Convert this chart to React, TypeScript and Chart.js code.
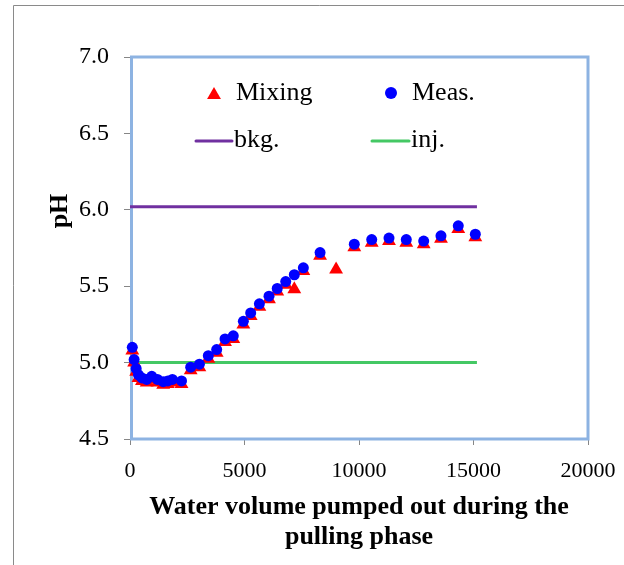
import React, { useEffect, useRef } from "react";
import { Chart, registerables } from "chart.js";

Chart.register(...registerables);

// ---- Data ----
const measX = [100, 180, 270, 370, 520, 730, 950, 1200, 1450, 1650, 1850, 2250, 2650, 3030, 3420, 3785, 4150, 4510, 4950, 5270, 5650, 6070, 6430, 6800, 7175, 7570, 8300, 9795, 10555, 11310, 12065, 12825, 13580, 14335, 15080];
const measY = [5.10, 5.02, 4.96, 4.92, 4.90, 4.89, 4.91, 4.89, 4.875, 4.88, 4.89, 4.88, 4.97, 4.99, 5.045, 5.085, 5.155, 5.175, 5.27, 5.325, 5.385, 5.435, 5.485, 5.53, 5.575, 5.62, 5.72, 5.775, 5.805, 5.815, 5.805, 5.795, 5.83, 5.895, 5.84];

const mixX = [100, 180, 270, 370, 520, 730, 950, 1200, 1450, 1650, 1850, 2250, 2650, 3030, 3420, 3785, 4150, 4510, 4950, 5270, 5650, 6070, 6430, 6800, 7175, 7570, 8300, 9000, 9795, 10555, 11310, 12065, 12825, 13580, 14335, 15080];
const mixY = [5.08, 5.0, 4.94, 4.90, 4.88, 4.87, 4.89, 4.87, 4.855, 4.86, 4.87, 4.86, 4.95, 4.97, 5.025, 5.065, 5.135, 5.155, 5.25, 5.305, 5.365, 5.415, 5.465, 5.51, 5.48, 5.60, 5.70, 5.61, 5.755, 5.785, 5.795, 5.785, 5.775, 5.81, 5.875, 5.82];

const bkgX = [0, 15150];
const bkgY = [6.02, 6.02];
const injX = [0, 15150];
const injY = [5.0, 5.0];

const xTickValues = [0, 5000, 10000, 15000, 20000];
const yTickValues = [4.5, 5.0, 5.5, 6.0, 6.5, 7.0];

const seriesNames = ["Mixing", "Meas.", "bkg.", "inj."];
const xTitleLines = ["Water volume pumped out during the", "pulling phase"];
const yTitle = "pH";

const RED = "#FF0000";
const BLUE = "#0000FF";
const PURPLE = "#7030A0";
const GREEN = "#44C864";
const FRAME = "#8DB3E2";
const SERIF = '"Liberation Serif", "Times New Roman", serif';

const zip = (xs: number[], ys: number[]) => xs.map((x, i) => ({ x, y: ys[i] }));

function drawTri(ctx: CanvasRenderingContext2D, cx: number, cy: number, r: number) {
  ctx.beginPath();
  ctx.moveTo(cx, cy - r);
  ctx.lineTo(cx + r * Math.sin((2 * Math.PI) / 3), cy - r * Math.cos((2 * Math.PI) / 3));
  ctx.lineTo(cx + r * Math.sin((4 * Math.PI) / 3), cy - r * Math.cos((4 * Math.PI) / 3));
  ctx.closePath();
  ctx.fill();
}

const decorPlugin = {
  id: "decor",
  beforeDraw(chart: any) {
    const ctx = chart.ctx as CanvasRenderingContext2D;
    ctx.save();
    ctx.fillStyle = "#fff";
    ctx.fillRect(0, 0, chart.width, chart.height);
    ctx.strokeStyle = "#8a8a8a";
    ctx.lineWidth = 1;
    ctx.beginPath();
    ctx.moveTo(13.5, chart.height + 5);
    ctx.lineTo(13.5, 5.5);
    ctx.lineTo(chart.width + 5, 5.5);
    ctx.stroke();
    ctx.restore();
  },
  beforeDatasetsDraw(chart: any) {
    const ctx = chart.ctx as CanvasRenderingContext2D;
    const a = chart.chartArea;
    ctx.save();
    ctx.strokeStyle = FRAME;
    ctx.lineWidth = 3;
    ctx.strokeRect(a.left + 1.5, a.top, a.right - a.left - 1.5, a.bottom - a.top);
    ctx.restore();
  },
  afterDraw(chart: any) {
    const ctx = chart.ctx as CanvasRenderingContext2D;
    const a = chart.chartArea;
    ctx.save();
    // Legend inside plot
    ctx.font = `26px ${SERIF}`;
    ctx.textBaseline = "middle";
    ctx.textAlign = "left";
    ctx.fillStyle = RED;
    drawTri(ctx, 214, 95, 8);
    ctx.fillStyle = "#000";
    ctx.fillText(seriesNames[0], 236, 93);
    ctx.fillStyle = BLUE;
    ctx.beginPath();
    ctx.arc(391, 93, 6, 0, Math.PI * 2);
    ctx.fill();
    ctx.fillStyle = "#000";
    ctx.fillText(seriesNames[1], 412, 93);
    ctx.lineWidth = 3;
    ctx.lineCap = "round";
    ctx.strokeStyle = PURPLE;
    ctx.beginPath();
    ctx.moveTo(196, 141);
    ctx.lineTo(232, 141);
    ctx.stroke();
    ctx.fillText(seriesNames[2], 234, 140);
    ctx.strokeStyle = GREEN;
    ctx.beginPath();
    ctx.moveTo(372, 141);
    ctx.lineTo(409, 141);
    ctx.stroke();
    ctx.fillText(seriesNames[3], 411, 140);

    // Axis titles
    ctx.font = `bold 26px ${SERIF}`;
    ctx.textAlign = "center";
    const cx = (a.left + a.right) / 2;
    ctx.fillText(xTitleLines[0], cx, 507);
    ctx.fillText(xTitleLines[1], cx, 537);
    ctx.translate(60, 211);
    ctx.rotate(-Math.PI / 2);
    ctx.fillText(yTitle, 0, 0);
    ctx.restore();
  },
};

export default function App() {
  const ref = useRef<HTMLCanvasElement | null>(null);

  useEffect(() => {
    if (!ref.current) return;
    const chart = new Chart(ref.current, {
      type: "scatter",
      data: {
        datasets: [
          {
            label: seriesNames[1],
            data: zip(measX, measY),
            pointStyle: "circle",
            pointRadius: 5.5,
            backgroundColor: BLUE,
            borderWidth: 0,
            showLine: false,
            order: 0,
            clip: false,
          },
          {
            label: seriesNames[0],
            data: zip(mixX, mixY),
            pointStyle: "triangle",
            pointRadius: 8,
            backgroundColor: RED,
            borderWidth: 0,
            showLine: false,
            order: 1,
            clip: false,
          },
          {
            label: seriesNames[2],
            data: zip(bkgX, bkgY),
            showLine: true,
            borderColor: PURPLE,
            borderWidth: 3,
            pointRadius: 0,
            order: 2,
            clip: false,
          },
          {
            label: seriesNames[3],
            data: zip(injX, injY),
            showLine: true,
            borderColor: GREEN,
            borderWidth: 3,
            pointRadius: 0,
            order: 3,
            clip: false,
          },
        ],
      },
      options: {
        responsive: false,
        animation: false,
        devicePixelRatio: 1,
        layout: { padding: { top: 57, right: 36, left: 0, bottom: 0 } },
        plugins: { legend: { display: false }, tooltip: { enabled: false } },
        scales: {
          x: {
            type: "linear",
            min: 0,
            max: 20000,
            afterBuildTicks: (s: any) => {
              s.ticks = xTickValues.map((v) => ({ value: v }));
            },
            afterFit: (s: any) => {
              s.height = 126;
              s.paddingLeft = 0;
              s.paddingRight = 0;
            },
            ticks: {
              font: { family: SERIF, size: 22 },
              color: "#000",
              padding: 13,
              maxRotation: 0,
              callback: (v: any) => String(v),
            },
            grid: { drawOnChartArea: false, drawTicks: true, tickLength: 6, color: "#868686" },
            border: { display: true, color: "#868686", width: 1 },
          },
          y: {
            type: "linear",
            min: 4.5,
            max: 7.0,
            afterBuildTicks: (s: any) => {
              s.ticks = yTickValues.map((v) => ({ value: v }));
            },
            afterFit: (s: any) => {
              s.width = 130;
              s.paddingTop = 0;
              s.paddingBottom = 0;
            },
            ticks: {
              font: { family: SERIF, size: 24 },
              color: "#000",
              padding: 15,
              callback: (v: any) => Number(v).toFixed(1),
            },
            grid: { drawOnChartArea: false, drawTicks: true, tickLength: 6, color: "#868686" },
            border: { display: true, color: "#868686", width: 1 },
          },
        },
      },
      plugins: [decorPlugin],
    });
    return () => chart.destroy();
  }, []);

  return (
    <div style={{ position: "fixed", left: 0, top: 0, width: 624, height: 565, overflow: "hidden", background: "#fff" }}>
      <canvas ref={ref} width={624} height={565} style={{ display: "block", width: 624, height: 565 }} />
    </div>
  );
}
